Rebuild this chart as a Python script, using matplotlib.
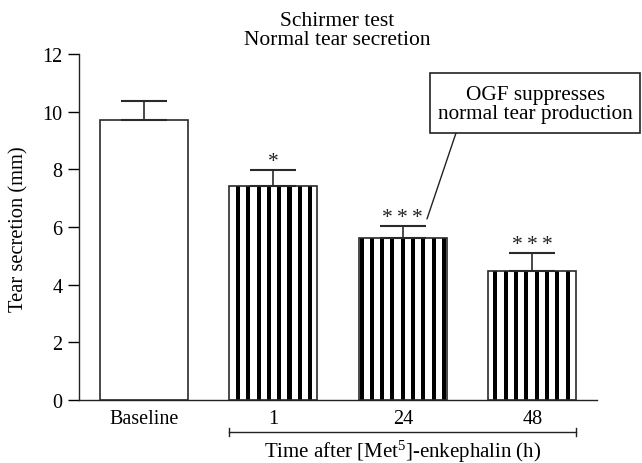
import numpy as np
import matplotlib
matplotlib.use("Agg")
import matplotlib.pyplot as plt
from matplotlib.patches import Rectangle

plt.rcParams['font.family'] = ['Liberation Serif', 'DejaVu Serif']
plt.rcParams['mathtext.fontset'] = 'custom'
plt.rcParams['mathtext.rm'] = 'Liberation Serif'
plt.rcParams['mathtext.it'] = 'Liberation Serif:italic'

categories = ["Baseline", "1", "24", "48"]
means = [9.72, 7.43, 5.62, 4.47]
errors = [0.65, 0.55, 0.43, 0.63]
striped = [False, True, True, True]
significance = ["", "*", "*\u2009*\u2009*", "*\u2009*\u2009*"]
yticks = [0, 2, 4, 6, 8, 10, 12]

FS = 14.5

fig = plt.figure(figsize=(6.42, 4.64), dpi=100)
ax = fig.add_axes([0.123, 0.1358, 0.807, 0.7457])

x = np.arange(len(categories))
bw = 0.68
edge = '#2a2a2a'

# stripes
period = 0.0795
phase = 0.0125
sw = 0.031
for xi, m, s in zip(x, means, striped):
    if not s:
        continue
    left, right = xi - bw / 2, xi + bw / 2
    k0 = np.ceil((left + 0.01 - phase) / period)
    k1 = np.floor((right - 0.01 - phase) / period)
    pos = phase + period * np.arange(k0, k1 + 1)
    ax.bar(pos, [m] * len(pos), width=sw, color='black', linewidth=0, zorder=2)

ax.bar(x, means, width=bw, facecolor='none', edgecolor=edge, linewidth=1.2, zorder=3)
ax.errorbar(x, means, yerr=[np.zeros(len(means)), errors], fmt='none',
            ecolor=edge, elinewidth=1.2, capsize=16.5, capthick=1.5, zorder=3)

for xi, m, e, s in zip(x, means, errors, significance):
    if s:
        ax.text(xi, m + e + 0.13, s, ha='center', va='baseline', fontsize=15.5, color='#222')

ax.set_xlim(-0.5, 3.5)
ax.set_ylim(0, 12)
ax.set_yticks(yticks)
ax.set_xticks(x)
ax.set_xticklabels(categories)
ax.tick_params(axis='x', length=0, pad=6.5, labelsize=FS)
ax.tick_params(axis='y', length=8, width=1, direction='out', labelsize=FS, pad=4)
for sp in ['top', 'right']:
    ax.spines[sp].set_visible(False)
for sp in ['left', 'bottom']:
    ax.spines[sp].set_linewidth(1.0)
    ax.spines[sp].set_color('#222')

fig.text(19 / 642, 1 - 229 / 464, "Tear secretion (mm)", rotation=90,
         ha='center', va='center', fontsize=14.8)

# bracket under time points
trans = ax.get_xaxis_transform()
bl, br = x[1] - bw / 2, x[3] + bw / 2
ax.plot([bl, br], [-0.0925, -0.0925], color='#222', lw=1.0, transform=trans, clip_on=False)
for bx in (bl, br):
    ax.plot([bx, bx], [-0.103, -0.082], color='#222', lw=1.0, transform=trans, clip_on=False)
ax.text((bl + br) / 2, -0.148, "Time after [Met$^5$]-enkephalin (h)", transform=trans,
        ha='center', va='center', fontsize=15)

fig.text(337 / 642, 1 - 31 / 464, "Schirmer test\nNormal tear secretion", ha='center',
         va='center', fontsize=15.5, linespacing=0.95)

# annotation box
fig.patches.append(Rectangle((430 / 642, 1 - 134 / 464), (640 - 430) / 642, (134 - 74) / 464,
                             transform=fig.transFigure, facecolor='white', edgecolor='#222',
                             linewidth=1.2))
fig.text(535 / 642, 1 - 105 / 464, "OGF suppresses\nnormal tear production", ha='center',
         va='center', fontsize=15.3, linespacing=1.05)
ax.annotate("", xy=(2.187, 6.28), xycoords='data', xytext=(456 / 642, 1 - 134 / 464),
            textcoords='figure fraction',
            arrowprops=dict(arrowstyle='-', color='#222', lw=1.0, shrinkA=0, shrinkB=0))

fig.savefig("out.png", dpi=100)
